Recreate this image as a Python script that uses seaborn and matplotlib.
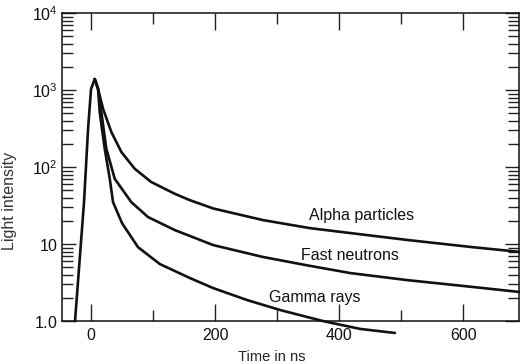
import numpy as np
import pandas as pd
import matplotlib
matplotlib.use("Agg")
import matplotlib.pyplot as plt
import seaborn as sns
from matplotlib.ticker import FixedLocator, LogLocator, NullFormatter, FixedFormatter

# ---- data ----
rise_t = [-25.8, -18.5, -11.3, -4.8, 0.0, 6.0]
rise_I = [1.0, 6.0, 35, 310, 1030, 1390]

alpha_t = [6.0, 11.3, 19.4, 32.8, 48.9, 70.5, 97, 135, 160, 197, 277, 353, 418, 510, 616, 692]
alpha_I = [1390, 1040, 571, 285, 157, 95, 64, 45, 37, 29, 20.5, 16.1, 13.9, 11.3, 9.1, 7.9]

neutron_t = [6.0, 11.3, 16.6, 24.7, 38.2, 65, 92, 135, 197, 277, 348, 418, 510, 616, 692]
neutron_I = [1390, 1040, 518, 173, 70.5, 35, 22.4, 15.2, 9.7, 6.8, 5.3, 4.2, 3.4, 2.77, 2.38]

gamma_t = [6.0, 11.3, 14.0, 22.1, 30.2, 35.5, 50, 75.8, 111, 160, 197, 252, 305, 374, 434, 490]
gamma_I = [1390, 1040, 518, 173, 70.5, 35, 18.7, 9.1, 5.5, 3.6, 2.68, 1.87, 1.39, 1.0, 0.79, 0.70]

series_names = ["rise", "Alpha particles", "Fast neutrons", "Gamma rays"]
label_t = [437, 418, 361]
label_I = [23.6, 7.1, 2.0]

x_major = [0, 200, 400, 600]
x_minor = [100, 300, 500]
y_major = [1, 10, 100, 1000, 10000]
y_labels = [r"$\mathregular{1.0}$", r"$\mathregular{10}$", r"$\mathregular{10^2}$",
            r"$\mathregular{10^3}$", r"$\mathregular{10^4}$"]

frames = []
for name, t, I in zip(series_names,
                      [rise_t, alpha_t, neutron_t, gamma_t],
                      [rise_I, alpha_I, neutron_I, gamma_I]):
    frames.append(pd.DataFrame({"t": t, "I": I, "series": name}))
df = pd.concat(frames, ignore_index=True)

# ---- style ----
sns.set_style("ticks")
plt.rcParams["font.family"] = ["Liberation Sans", "DejaVu Sans"]
plt.rcParams["mathtext.default"] = "regular"

fig = plt.figure(figsize=(5.2, 3.64), dpi=100)
ax = fig.add_axes([0.119, 0.118, 0.879, 0.846])

sns.lineplot(data=df, x="t", y="I", hue="series", units="series", estimator=None,
             sort=False, palette=["#111111"] * 4, legend=False, linewidth=1.9, ax=ax)
for ln in ax.get_lines():
    ln.set_clip_on(False)
    ln.set_solid_capstyle("round")
    ln.set_solid_joinstyle("round")

ax.set_yscale("log")
ax.set_xlim(-47, 690)
ax.set_ylim(1, 1e4)

ax.xaxis.set_major_locator(FixedLocator(x_major))
ax.xaxis.set_minor_locator(FixedLocator(x_minor))
ax.set_xticklabels([str(v) for v in x_major])
ax.yaxis.set_major_locator(FixedLocator(y_major))
ax.yaxis.set_major_formatter(FixedFormatter(y_labels))
ax.yaxis.set_minor_locator(LogLocator(base=10, subs=np.arange(2, 10)))
ax.yaxis.set_minor_formatter(NullFormatter())

for s in ax.spines.values():
    s.set_visible(True)
    s.set_linewidth(1.1)
    s.set_color("#111111")

ax.tick_params(axis="both", which="both", direction="in", top=True, right=True,
               color="#222222", width=1.0, labelsize=11.5, labelcolor="#111111")
ax.tick_params(axis="x", which="major", length=12, pad=5)
ax.tick_params(axis="x", which="minor", length=8)
ax.tick_params(axis="y", which="major", length=10, pad=3)
ax.tick_params(axis="y", which="minor", length=8)

ax.set_xlabel("Time in ns", fontsize=10.5, color="#222222")
ax.set_ylabel("Light intensity", fontsize=11.5, color="#333333")
ax.xaxis.set_label_coords(0.46, -0.095)
ax.yaxis.set_label_coords(-0.098, 0.39)

for name, t, I in zip(series_names[1:], label_t, label_I):
    ax.text(t, I, name, fontsize=11.5, ha="center", va="center", color="#111111")

fig.savefig("out.png", dpi=100, facecolor="white")
